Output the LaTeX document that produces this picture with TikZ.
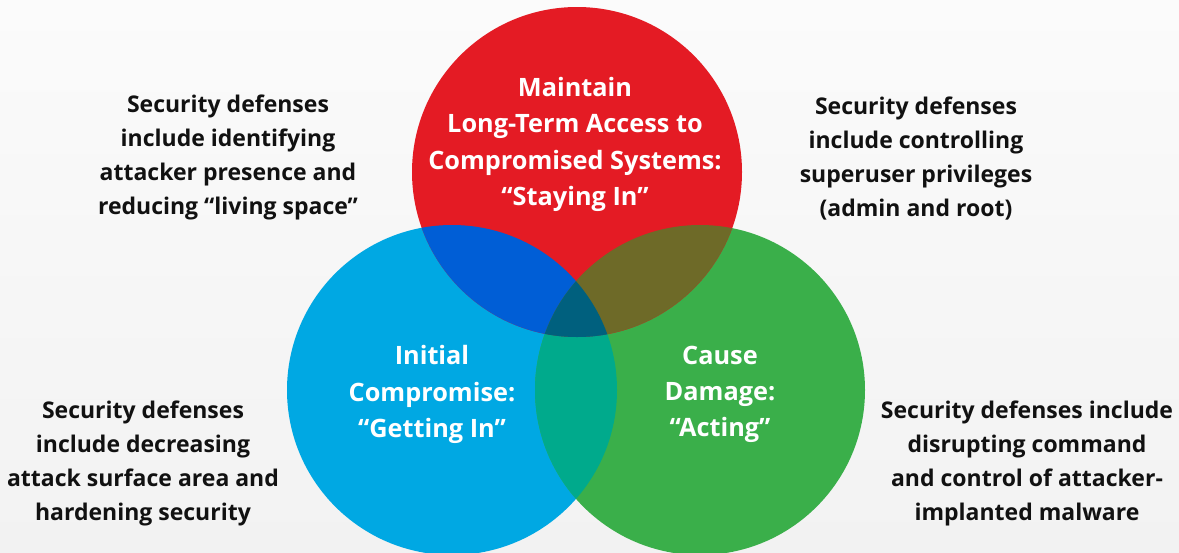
\documentclass[tikz,border=0pt]{standalone}
\usepackage{fontspec}
\setmainfont{Open Sans}
\definecolor{bgtop}{HTML}{FBFBFB}
\definecolor{bgbot}{HTML}{F2F2F2}
\definecolor{cred}{HTML}{E41B24}
\definecolor{cblue}{HTML}{00A8E3}
\definecolor{cgreen}{HTML}{3AAF4A}
\definecolor{crb}{HTML}{005ED6}
\definecolor{crg}{HTML}{6E6A28}
\definecolor{cbg}{HTML}{00AA8C}
\definecolor{crbg}{HTML}{00607E}
\definecolor{ctext}{HTML}{111111}
\begin{document}
\begin{tikzpicture}[x=1pt,y=-1pt,
  side/.style={align=center,text=ctext,font=\bfseries\fontsize{23}{34}\selectfont},
  inner/.style={align=center,text=white,font=\bfseries\fontsize{25.3}{36.3}\selectfont}]
\shade[top color=bgtop,bottom color=bgbot] (0,0) rectangle (1179,552);
\useasboundingbox (0,0) rectangle (1179,552);
\coordinate (R) at (577,172);
\coordinate (B) at (452,390);
\coordinate (G) at (700,390);
\def\rad{165pt}
\fill[cblue] (B) circle[radius=\rad];
\fill[cgreen] (G) circle[radius=\rad];
\fill[cred] (R) circle[radius=\rad];
\begin{scope}
\clip (B) circle[radius=\rad];
\fill[cbg] (G) circle[radius=\rad];
\end{scope}
\begin{scope}
\clip (R) circle[radius=\rad];
\fill[crb] (B) circle[radius=\rad];
\fill[crg] (G) circle[radius=\rad];
\clip (B) circle[radius=\rad];
\fill[crbg] (G) circle[radius=\rad];
\end{scope}
\node[inner] (tr) at (575,144.5) {Maintain\\Long-Term Access to\\Compromised Systems:\\“Staying In”};
\node[inner] (tb) at (432,394.5) {Initial\\Compromise:\\“Getting In”};
\node[inner] (tg) at (720,394.5) {Cause\\Damage:\\“Acting”};
\node[side] (tl) at (228,157) {Security defenses\\include identifying\\attacker presence and\\reducing “living space”};
\node[side] (trt) at (916,159) {Security defenses\\include controlling\\superuser privileges\\(admin and root)};
\node[side] (bl) at (143,463.5) {Security defenses\\include decreasing\\attack surface area and\\hardening security};
\node[side] (br) at (1027,463.5) {Security defenses include\\disrupting command\\and control of attacker-\\implanted malware};
\end{tikzpicture}
\end{document}
